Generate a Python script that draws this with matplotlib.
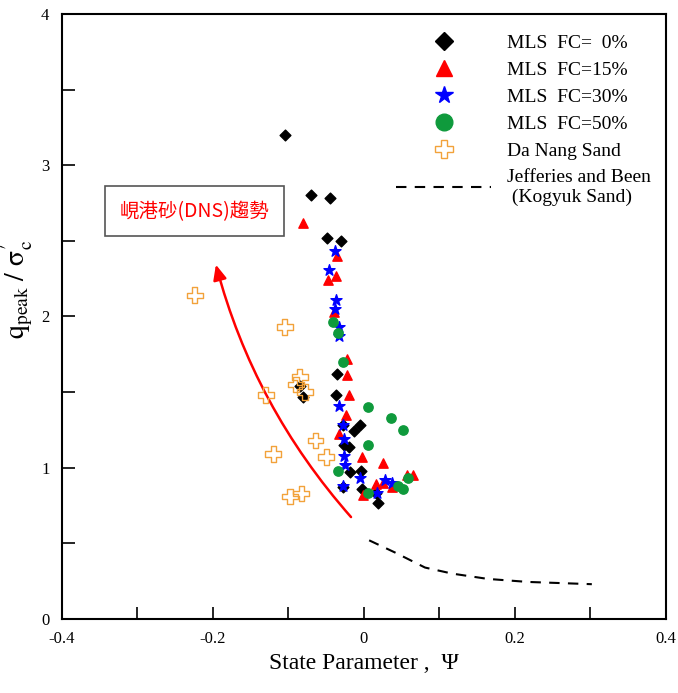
import matplotlib
matplotlib.use("Agg")
import matplotlib.pyplot as plt
from matplotlib.lines import Line2D
from matplotlib.ticker import MultipleLocator

plt.rcParams['font.family'] = ['Liberation Serif', 'DejaVu Serif']
plt.rcParams['mathtext.fontset'] = 'stix'

# MLS FC = 0%
fc0_x = [-0.105, -0.070, -0.045, -0.049, -0.030, -0.036, -0.037, -0.028, -0.013,
         -0.005, -0.027, -0.020, -0.019, -0.004, -0.028, -0.003, 0.016, 0.019,
         -0.085, -0.081]
fc0_y = [3.20, 2.80, 2.78, 2.52, 2.50, 1.62, 1.48, 1.28, 1.24,
         1.28, 1.15, 1.14, 0.97, 0.98, 0.87, 0.86, 0.83, 0.77,
         1.54, 1.47]

# MLS FC = 15%
fc15_x = [-0.081, -0.036, -0.048, -0.037, -0.040, -0.023, -0.023, -0.020, -0.024,
          -0.033, -0.003, 0.025, 0.016, -0.001, 0.037, 0.057, 0.065, 0.025]
fc15_y = [2.62, 2.40, 2.24, 2.27, 2.03, 1.72, 1.61, 1.48, 1.35,
          1.22, 1.07, 1.03, 0.89, 0.82, 0.87, 0.95, 0.95, 0.90]

# MLS FC = 30%
fc30_x = [-0.038, -0.046, -0.037, -0.038, -0.033, -0.033, -0.033, -0.028, -0.027,
          -0.027, -0.025, -0.005, -0.028, 0.028, 0.037, 0.017]
fc30_y = [2.43, 2.31, 2.11, 2.05, 1.93, 1.87, 1.41, 1.28, 1.19,
          1.08, 1.02, 0.93, 0.88, 0.92, 0.90, 0.83]

# MLS FC = 50%
fc50_x = [-0.041, -0.034, -0.028, 0.005, 0.036, 0.052, 0.005, -0.034, 0.005,
          0.052, 0.058, 0.045]
fc50_y = [1.96, 1.89, 1.70, 1.40, 1.33, 1.25, 1.15, 0.98, 0.83,
          0.86, 0.93, 0.88]

# Da Nang Sand
dns_x = [-0.224, -0.105, -0.085, -0.090, -0.078, -0.130, -0.064, -0.120, -0.050,
         -0.098, -0.083]
dns_y = [2.14, 1.93, 1.60, 1.55, 1.50, 1.48, 1.18, 1.09, 1.07,
         0.81, 0.83]

# Jefferies and Been (Kogyuk Sand)
jb_x = [0.007, 0.041, 0.081, 0.117, 0.164, 0.217, 0.302]
jb_y = [0.52, 0.44, 0.34, 0.30, 0.265, 0.245, 0.23]

fig = plt.figure(figsize=(6.78, 6.93), dpi=100)
ax = fig.add_axes([0.0914, 0.1068, 0.8906, 0.8732])

ax.plot(jb_x, jb_y, color='k', ls=(0, (5, 4)), lw=1.5)
ax.scatter(fc0_x, fc0_y, marker='D', s=30, c='k', zorder=3)
ax.scatter(fc15_x, fc15_y, marker='^', s=45, c='red', zorder=3)
ax.scatter(fc30_x, fc30_y, marker='*', s=70, c='blue', zorder=3)
ax.scatter(fc50_x, fc50_y, marker='o', s=45, c='#0f9a3c', zorder=3)
ax.scatter(dns_x, dns_y, marker='P', s=130, facecolors='none',
           edgecolors='#f2a23a', linewidths=1.0, zorder=4)

# trend arrow
ax.annotate('', xy=(-0.197, 2.36), xytext=(-0.0146, 0.66),
            arrowprops=dict(arrowstyle='-|>,head_length=0.9,head_width=0.4',
                            color='red', lw=1.8,
                            connectionstyle='arc3,rad=-0.12'))
ax.text(-0.224, 2.695, '峴港砂(DNS)趨勢', color='red', fontsize=14,
        family=['Noto Sans CJK TC', 'Liberation Serif'],
        ha='center', va='center',
        bbox=dict(boxstyle='square,pad=0.75', fc='white', ec='#555555', lw=1.2))

ax.set_xlim(-0.4, 0.4)
ax.set_ylim(0, 4)
ax.xaxis.set_major_locator(MultipleLocator(0.2))
ax.xaxis.set_minor_locator(MultipleLocator(0.1))
ax.yaxis.set_major_locator(MultipleLocator(1))
ax.yaxis.set_minor_locator(MultipleLocator(0.5))
ax.set_xticks([-0.4, -0.2, 0, 0.2, 0.4])
ax.set_xticklabels(['-0.4', '-0.2', '0', '0.2', '0.4'])
ax.tick_params(which='both', direction='in', labelsize=12, width=1.2)
ax.tick_params(which='major', length=9)
ax.tick_params(which='minor', length=9)
ax.tick_params(axis='x', pad=9)
ax.tick_params(axis='y', pad=9)
for sp in ax.spines.values():
    sp.set_linewidth(1.5)

ax.set_xlabel('State Parameter ,  Ψ', fontsize=17, labelpad=4)
ax.set_ylabel(r"$\mathrm{q_{peak}\ /\ \sigma_c^{\prime}}$", fontsize=20)
ax.yaxis.set_label_coords(-0.045, 0.545)

handles = [
    Line2D([], [], marker='D', color='k', ls='none', markersize=9),
    Line2D([], [], marker='^', color='red', ls='none', markersize=11),
    Line2D([], [], marker='*', color='blue', ls='none', markersize=13),
    Line2D([], [], marker='o', color='#0f9a3c', ls='none', markersize=12),
    Line2D([], [], marker='P', markerfacecolor='none', markeredgecolor='#f2a23a',
           ls='none', markersize=13),
    Line2D([], [], color='k', ls=(0, (5, 4)), lw=1.5),
]
labels = ['MLS  FC=  0%', 'MLS  FC=15%', 'MLS  FC=30%', 'MLS  FC=50%',
          'Da Nang Sand', 'Jefferies and Been\n (Kogyuk Sand)']
ax.legend(handles, labels, loc='upper right', bbox_to_anchor=(1.005, 0.995),
          frameon=False, fontsize=14, handlelength=4.9, labelspacing=0.48,
          handletextpad=0.82)

fig.savefig('out.png', dpi=100)
